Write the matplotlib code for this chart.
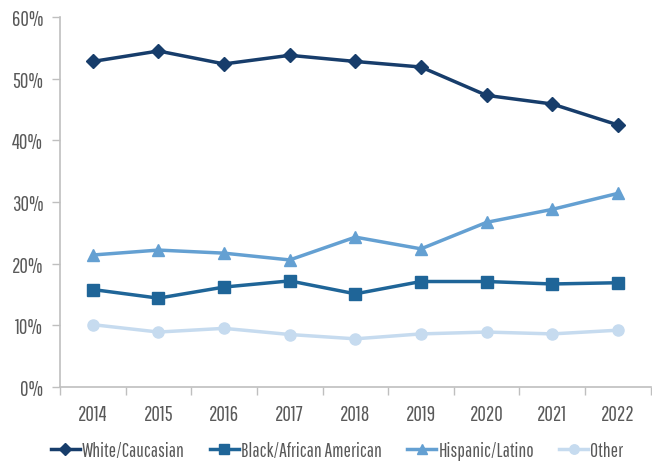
import numpy as np
import matplotlib.pyplot as plt
from matplotlib.ticker import FuncFormatter, FixedLocator

plt.rcParams['font.family'] = ['Pathway Gothic One', 'DejaVu Sans']

years = ['2014', '2015', '2016', '2017', '2018', '2019', '2020', '2021', '2022']
white = [52.8, 54.5, 52.4, 53.8, 52.8, 51.9, 47.3, 45.9, 42.5]
black = [15.8, 14.4, 16.2, 17.2, 15.1, 17.1, 17.1, 16.7, 16.9]
hispanic = [21.4, 22.2, 21.7, 20.6, 24.3, 22.4, 26.7, 28.8, 31.4]
other = [10.1, 8.9, 9.5, 8.5, 7.8, 8.6, 8.9, 8.6, 9.2]

x = np.arange(len(years))

fig = plt.figure(figsize=(6.52, 4.64), dpi=100)
ax = fig.add_axes([0.092, 0.164, 0.906, 0.797])

ax.plot(x, white, color='#173d6b', marker='D', markersize=7, linewidth=2.5, label='White/Caucasian')
ax.plot(x, black, color='#1f6598', marker='s', markersize=8, linewidth=2.5, label='Black/African American')
ax.plot(x, hispanic, color='#64a0d2', marker='^', markersize=8, linewidth=2.5, label='Hispanic/Latino')
ax.plot(x, other, color='#c6dbef', marker='o', markersize=8, linewidth=2.5, label='Other')

ax.set_xlim(-0.5, len(years) - 0.5)
ax.set_ylim(0, 60)
ax.set_yticks(range(0, 61, 10))
ax.yaxis.set_major_formatter(FuncFormatter(lambda v, p: f'{int(v)}%'))
ax.set_xticks(x)
ax.set_xticklabels(years)
ax.xaxis.set_minor_locator(FixedLocator(np.arange(-0.5, len(years), 1)))
ax.tick_params(axis='x', which='major', length=0, pad=12)
ax.tick_params(axis='x', which='minor', length=6, color='#bfbfbf', width=1)
ax.tick_params(axis='y', length=6, color='#bfbfbf', width=1, pad=6)
ax.tick_params(labelsize=15, labelcolor='#595959')

for s in ['top', 'right']:
    ax.spines[s].set_visible(False)
for s in ['left', 'bottom']:
    ax.spines[s].set_color('#bfbfbf')
    ax.spines[s].set_linewidth(1.2)

fig.legend(*ax.get_legend_handles_labels(), loc='center', bbox_to_anchor=(0.517, 0.027),
           ncol=4, frameon=False, fontsize=14, labelcolor='#595959', handlelength=1.5,
           handletextpad=0.1, columnspacing=1.3, borderpad=0, markerscale=0.85)

fig.savefig('out.png', dpi=100)
